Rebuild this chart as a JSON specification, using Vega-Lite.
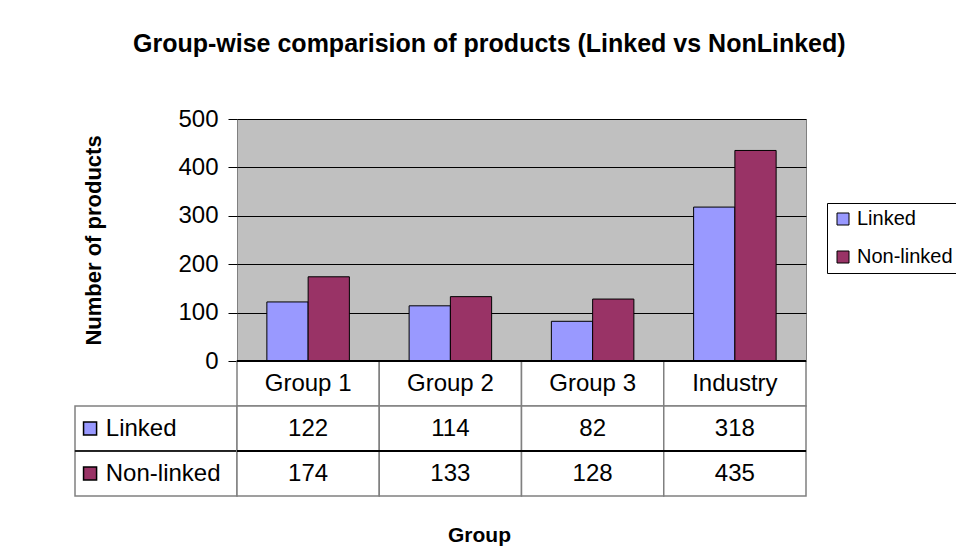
{
  "$schema": "https://vega.github.io/schema/vega-lite/v6.json",
  "background": "white",
  "padding": {"left": 74, "top": 31, "right": 4, "bottom": 4},
  "title": {"text": "Group-wise comparision of products (Linked vs NonLinked)", "anchor": "start", "frame": "group", "fontSize": 25, "fontWeight": "bold", "font": "Liberation Sans", "color": "black", "offset": 50, "dx": 58},
  "datasets": {
    "bars": [
      {"group": "Group 1", "series": "Linked", "value": 122},
      {"group": "Group 1", "series": "Non-linked", "value": 174},
      {"group": "Group 2", "series": "Linked", "value": 114},
      {"group": "Group 2", "series": "Non-linked", "value": 133},
      {"group": "Group 3", "series": "Linked", "value": 82},
      {"group": "Group 3", "series": "Non-linked", "value": 128},
      {"group": "Industry", "series": "Linked", "value": 318},
      {"group": "Industry", "series": "Non-linked", "value": 435}
    ],
    "labels": [{"series": "Linked"}, {"series": "Non-linked"}],
    "table": [
      {"group": "Group 1", "row": "header", "label": "Group 1"},
      {"group": "Group 2", "row": "header", "label": "Group 2"},
      {"group": "Group 3", "row": "header", "label": "Group 3"},
      {"group": "Industry", "row": "header", "label": "Industry"},
      {"group": "Group 1", "row": "Linked", "label": "122"},
      {"group": "Group 2", "row": "Linked", "label": "114"},
      {"group": "Group 3", "row": "Linked", "label": "82"},
      {"group": "Industry", "row": "Linked", "label": "318"},
      {"group": "Group 1", "row": "Non-linked", "label": "174"},
      {"group": "Group 2", "row": "Non-linked", "label": "133"},
      {"group": "Group 3", "row": "Non-linked", "label": "128"},
      {"group": "Industry", "row": "Non-linked", "label": "435"}
    ]
  },
  "columns": 2,
  "spacing": 0,
  "bounds": "flush",
  "concat": [
    {
      "width": 162, "height": 242,
      "view": {"stroke": null},
      "data": {"values": [{}]},
      "mark": {"type": "text"},
      "encoding": {"text": {"value": ""}}
    },
    {
      "width": 569, "height": 242,
      "data": {"name": "bars"},
      "view": {"fill": "#c0c0c0", "stroke": "#808080"},
      "mark": {"type": "bar", "stroke": "black", "strokeWidth": 1},
      "encoding": {
        "x": {"field": "group", "type": "nominal", "sort": null, "scale": {"paddingInner": 0.42, "paddingOuter": 0.21},
              "axis": {"labels": false, "ticks": false, "title": null, "domainColor": "black", "domainWidth": 1, "grid": false}},
        "xOffset": {"field": "series", "sort": null, "scale": {"paddingInner": 0, "paddingOuter": 0}},
        "y": {"field": "value", "type": "quantitative", "scale": {"domain": [0, 500], "nice": false},
              "axis": {"values": [0, 100, 200, 300, 400, 500], "title": "Number of products", "titleFontSize": 22, "titleFontWeight": "bold", "titlePadding": 72, "titleColor": "black",
                       "labelFontSize": 24, "labelPadding": 10, "labelColor": "black", "tickSize": 9, "tickColor": "black", "domain": false, "gridColor": "black", "gridOpacity": 1}},
        "color": {"field": "series", "type": "nominal", "sort": null,
                  "scale": {"domain": ["Linked", "Non-linked"], "range": ["#9999ff", "#993366"]},
                  "legend": {"orient": "none", "legendX": 752, "legendY": 84, "title": null, "strokeColor": "black", "padding": 6,
                             "labelFontSize": 20, "labelColor": "black", "symbolType": "square", "symbolSize": 144, "symbolStrokeColor": "black", "symbolStrokeWidth": 1, "rowPadding": 18, "labelOffset": 4}}
      }
    },
    {
      "width": 162, "height": 135,
      "data": {"name": "labels"},
      "view": {"stroke": null},
      "encoding": {"y": {"field": "series", "type": "nominal", "scale": {"domain": ["header", "Linked", "Non-linked"], "paddingInner": 0, "paddingOuter": 0}, "axis": null}},
      "layer": [
        {"mark": {"type": "rect", "fill": "white", "stroke": "#808080", "strokeWidth": 1.5},
         "encoding": {"x": {"datum": 0, "type": "quantitative", "scale": {"domain": [0, 1], "nice": false, "zero": false}, "axis": null}, "x2": {"datum": 1}}},
        {"mark": {"type": "rule", "color": "black", "strokeWidth": 1},
         "encoding": {"y": {"datum": "Non-linked", "type": "nominal", "bandPosition": 0}}},
        {"mark": {"type": "point", "shape": "square", "filled": true, "size": 170, "stroke": "black", "strokeWidth": 1.5, "opacity": 1},
         "encoding": {"x": {"datum": 0.093, "type": "quantitative"}, "color": {"field": "series", "type": "nominal"}}},
        {"mark": {"type": "text", "align": "left", "baseline": "middle", "fontSize": 24, "color": "black"},
         "encoding": {"x": {"datum": 0.19, "type": "quantitative"}, "text": {"field": "series"}}}
      ]
    },
    {
      "width": 569, "height": 135,
      "data": {"name": "table"},
      "view": {"stroke": null},
      "encoding": {"y": {"field": "row", "type": "nominal", "scale": {"domain": ["header", "Linked", "Non-linked"], "paddingInner": 0, "paddingOuter": 0}, "axis": null}},
      "layer": [
        {"mark": {"type": "rect", "fill": "white", "stroke": "#808080", "strokeWidth": 1.5},
         "encoding": {"x": {"field": "group", "type": "nominal", "sort": null, "scale": {"paddingInner": 0, "paddingOuter": 0},
                            "axis": {"orient": "bottom", "domain": false, "ticks": false, "labels": false, "grid": false, "title": "Group", "titleFontSize": 21, "titleFontWeight": "bold", "titleColor": "black", "titlePadding": 28, "titleX": 242}}}},
        {"mark": {"type": "rule", "color": "black", "strokeWidth": 1},
         "encoding": {"y": {"datum": "Non-linked", "type": "nominal", "bandPosition": 0}}},
        {"mark": {"type": "rule", "color": "black", "strokeWidth": 1},
         "encoding": {"y": {"datum": "header", "type": "nominal", "bandPosition": 0}}},
        {"mark": {"type": "text", "fontSize": 24, "color": "black", "baseline": "middle"},
         "encoding": {"x": {"field": "group", "type": "nominal", "sort": null}, "text": {"field": "label"}}}
      ]
    }
  ],
  "config": {
    "font": "Liberation Sans",
    "axis": {"labelFont": "Liberation Sans", "titleFont": "Liberation Sans"},
    "legend": {"labelFont": "Liberation Sans"},
    "text": {"font": "Liberation Sans"}
  }
}
